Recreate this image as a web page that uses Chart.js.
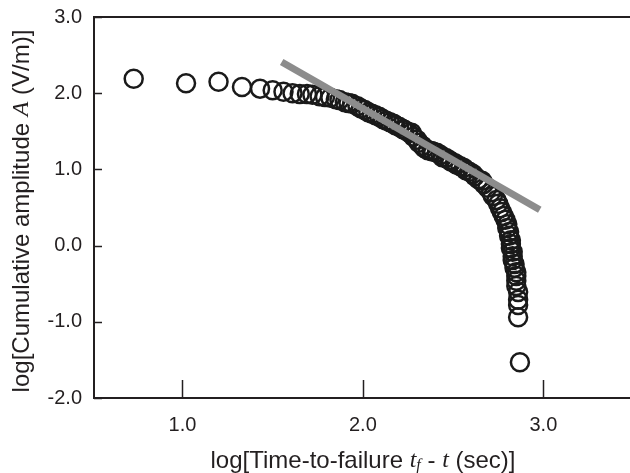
<!DOCTYPE html>
<html><head><meta charset="utf-8">
<script src="https://cdn.jsdelivr.net/npm/chart.js@4"></script>
<style>html,body{margin:0;padding:0;background:#fff}#wrap{width:630px;height:473px}</style>
</head><body><div id="wrap"><canvas id="c" width="630" height="473"></canvas></div>
<script>
// log10 time-to-failure (sec)
const logTimeToFailure = [0.73,1.02,1.20,1.33,1.43,1.50,1.56,1.61,1.65,1.69,
  1.72,1.76,1.79,1.82,1.85,1.87,1.90,1.92,1.94,1.97,
  1.99,2.01,2.03,2.05,2.07,2.09,2.11,2.13,2.15,2.17,
  2.18,2.20,2.22,2.23,2.25,2.27,2.28,2.30,2.31,2.33,
  2.34,2.36,2.38,2.39,2.41,2.43,2.44,2.46,2.48,2.49,
  2.51,2.52,2.54,2.56,2.57,2.59,2.61,2.62,2.64,2.66,
  2.67,2.69,2.71,2.72,2.74,2.75,2.76,2.77,2.78,2.79,
  2.80,2.80,2.81,2.81,2.82,2.82,2.82,2.83,2.83,2.83,
  2.84,2.84,2.85,2.85,2.85,2.85,2.86,2.86,2.86,2.86,
  2.87];
// log10 cumulative amplitude (V/m)
const logCumulativeAmplitude = [2.19,2.13,2.15,2.08,2.06,2.04,2.02,2.00,1.99,1.99,
  1.98,1.96,1.95,1.94,1.92,1.91,1.88,1.87,1.86,1.83,
  1.80,1.78,1.75,1.73,1.71,1.69,1.66,1.64,1.62,1.60,
  1.58,1.56,1.53,1.52,1.49,1.48,1.43,1.39,1.35,1.31,
  1.28,1.25,1.24,1.23,1.22,1.19,1.16,1.15,1.12,1.10,
  1.08,1.06,1.04,1.02,0.99,0.97,0.94,0.91,0.87,0.85,
  0.81,0.76,0.70,0.65,0.60,0.55,0.49,0.44,0.39,0.34,
  0.28,0.23,0.18,0.13,0.07,0.02,-0.03,-0.08,-0.14,-0.19,
  -0.24,-0.29,-0.35,-0.40,-0.46,-0.53,-0.61,-0.71,-0.78,-0.94,
  -1.53];
// fitted straight line end points
const fitLineX = [1.55, 2.98];
const fitLineY = [2.41, 0.47];
// tick labels
const xTickValues = [1.0, 2.0, 3.0];
const yTickValues = [-2.0, -1.0, 0.0, 1.0, 2.0, 3.0];
const xRange = [0.51, 3.48];
const yRange = [-2.0, 3.0];

const SANS = '"Liberation Sans", Arial, sans-serif';
const SERIF = '"Liberation Serif", "Times New Roman", serif';

const points = logTimeToFailure.map((x, i) => ({x, y: logCumulativeAmplitude[i]}));
const linePts = fitLineX.map((x, i) => ({x, y: fitLineY[i]}));

function drawParts(ctx, parts, cx, cy) {
  let w = 0;
  parts.forEach(p => { ctx.font = p.font; p.w = ctx.measureText(p.t).width; w += p.w; });
  let x = cx - w / 2;
  parts.forEach(p => {
    ctx.font = p.font;
    ctx.fillText(p.t, x, cy + (p.dy || 0));
    x += p.w;
  });
}

const decor = {
  id: 'decor',
  afterDraw(chart) {
    const ctx = chart.ctx, a = chart.chartArea;
    const xs = chart.scales.x, ys = chart.scales.y;
    ctx.save();
    ctx.strokeStyle = '#231f20';
    ctx.lineWidth = 2;
    // top border
    ctx.beginPath(); ctx.moveTo(a.left - 1, a.top); ctx.lineTo(chart.width, a.top); ctx.stroke();
    // inward ticks
    ctx.lineWidth = 1.5;
    xTickValues.forEach(v => {
      const px = Math.round(xs.getPixelForValue(v)) + 0.5;
      ctx.beginPath(); ctx.moveTo(px, a.bottom); ctx.lineTo(px, a.bottom - 18); ctx.stroke();
    });
    yTickValues.forEach(v => {
      const py = Math.round(ys.getPixelForValue(v)) + 0.5;
      ctx.beginPath(); ctx.moveTo(a.left, py); ctx.lineTo(a.left + 8, py); ctx.stroke();
    });
    // titles
    ctx.fillStyle = '#231f20';
    ctx.textBaseline = 'middle';
    ctx.textAlign = 'left';
    const fs = 24;
    drawParts(ctx, [
      {t: 'log[Time-to-failure ', font: fs + 'px ' + SANS},
      {t: 't', font: 'italic ' + fs + 'px ' + SERIF},
      {t: 'f', font: 'italic ' + Math.round(fs * 0.68) + 'px ' + SERIF, dy: 5},
      {t: ' - ', font: fs + 'px ' + SANS},
      {t: 't', font: 'italic ' + fs + 'px ' + SERIF},
      {t: ' (sec)]', font: fs + 'px ' + SANS}
    ], 363, 461);
    ctx.save();
    ctx.translate(22, 211);
    ctx.rotate(-Math.PI / 2);
    drawParts(ctx, [
      {t: 'log[Cumulative amplitude ', font: fs + 'px ' + SANS},
      {t: 'A', font: 'italic ' + fs + 'px ' + SERIF},
      {t: ' (V/m)]', font: fs + 'px ' + SANS}
    ], 0, 0);
    ctx.restore();
    ctx.restore();
  }
};

new Chart(document.getElementById('c'), {
  type: 'scatter',
  data: {
    datasets: [
      {
        label: 'data', data: points, order: 1,
        pointStyle: 'circle', pointRadius: 9, pointHoverRadius: 9,
        borderWidth: 2.5, pointBorderWidth: 2.5,
        borderColor: '#1a1a1a', backgroundColor: 'rgba(0,0,0,0)',
        pointBackgroundColor: 'rgba(0,0,0,0)', pointBorderColor: '#1a1a1a'
      },
      {
        label: 'fit', data: linePts, order: 0, showLine: true,
        pointRadius: 0, borderColor: '#8c8c8c', borderWidth: 7, borderCapStyle: 'butt'
      }
    ]
  },
  options: {
    responsive: false, animation: false, devicePixelRatio: 1,
    layout: {autoPadding: false, padding: {top: 17, right: 0, left: 0, bottom: 0}},
    plugins: {legend: {display: false}, tooltip: {enabled: false}},
    scales: {
      x: {
        type: 'linear', min: xRange[0], max: xRange[1],
        afterBuildTicks: s => { s.ticks = xTickValues.map(v => ({value: v})); },
        afterFit: s => { s.height = 75; s.paddingLeft = 0; s.paddingRight = 0; },
        grid: {display: false, drawTicks: false},
        border: {display: true, color: '#231f20', width: 2},
        ticks: {padding: 15, color: '#231f20', font: {family: SANS, size: 20},
          callback: v => Number(v).toFixed(1), maxRotation: 0, autoSkip: false}
      },
      y: {
        type: 'linear', min: yRange[0], max: yRange[1],
        afterBuildTicks: s => { s.ticks = yTickValues.map(v => ({value: v})); },
        afterFit: s => { s.width = 94; s.paddingTop = 0; s.paddingBottom = 0; },
        grid: {display: false, drawTicks: false},
        border: {display: true, color: '#231f20', width: 2},
        ticks: {padding: 12, color: '#231f20', font: {family: SANS, size: 20},
          callback: v => Number(v).toFixed(1), autoSkip: false}
      }
    }
  },
  plugins: [decor]
});
</script>
</body></html>
